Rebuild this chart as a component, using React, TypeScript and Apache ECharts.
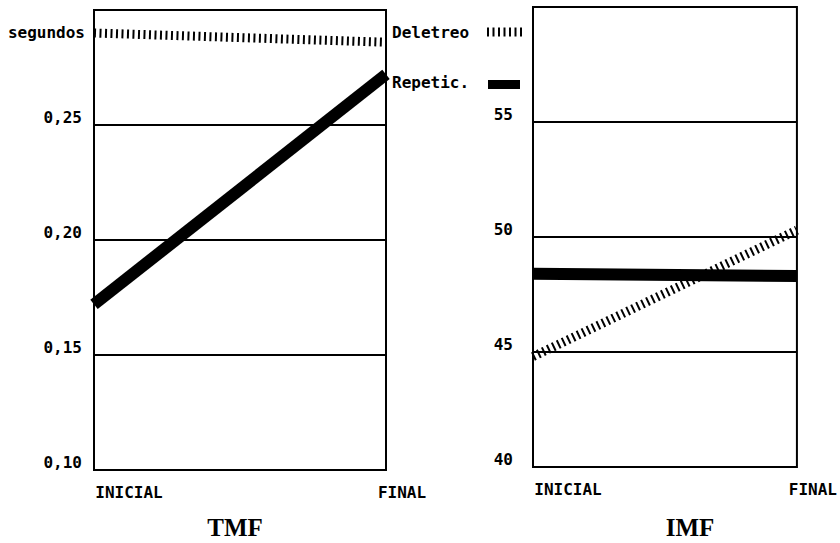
import React, { useEffect, useRef } from "react";
import * as echarts from "echarts";

const categories = ["INICIAL", "FINAL"];
const tmfDeletreo = [0.290, 0.286];
const tmfRepetic = [0.172, 0.272];
const imfDeletreo = [44.8, 50.3];
const imfRepetic = [48.4, 48.3];
const seriesNames = ["Deletreo", "Repetic."];
const panelTitles = ["TMF", "IMF"];
const yUnit = "segundos";

const MONO = "DejaVu Sans Mono";
const SERIF = "Liberation Serif";
const BLACK = "#000";

const monoText = { fontFamily: MONO, fontWeight: "bold", fontSize: 16, color: BLACK };

function xAxisFor(gridIndex: number) {
  return {
    type: "category",
    gridIndex,
    data: categories,
    boundaryGap: false,
    axisLine: { show: false },
    axisTick: { show: false },
    splitLine: { show: false },
    axisLabel: {
      ...monoText,
      margin: 14,
      align: "center",
      formatter: (v: string) => (v === categories[0] ? "{a|" + v + "}" : "{b|" + v + "}"),
      rich: {
        a: { ...monoText, padding: [0, 0, 0, 70] },
        b: { ...monoText, padding: [0, 0, 0, 32] },
      },
    },
  };
}

export default function App() {
  const ref = useRef<HTMLDivElement>(null);
  useEffect(() => {
    if (!ref.current) return;
    const chart = echarts.init(ref.current, undefined, { renderer: "svg" });
    const hatch = { color: BLACK, width: 9, type: [2, 3.5], cap: "butt" };
    const thick = { color: BLACK, width: 12, cap: "butt" };
    chart.setOption({
      animation: false,
      backgroundColor: "#fff",
      grid: [
        { left: 94, top: 10, width: 292, height: 460, show: true, borderColor: BLACK, borderWidth: 2, backgroundColor: "transparent" },
        { left: 533, top: 7, width: 294, height: 460, show: true, borderColor: BLACK, borderWidth: 2, backgroundColor: "transparent" },
      ],
      xAxis: [xAxisFor(0), xAxisFor(1)],
      yAxis: [
        {
          type: "value",
          gridIndex: 0,
          min: 0.1,
          max: 0.3,
          interval: 0.05,
          axisLine: { show: false },
          axisTick: { show: false },
          splitLine: { show: true, lineStyle: { color: BLACK, width: 2 } },
          axisLabel: {
            ...monoText,
            margin: 12,
            verticalAlign: "bottom",
            showMaxLabel: false,
            formatter: (v: number) => v.toFixed(2).replace(".", ","),
          },
        },
        {
          type: "value",
          gridIndex: 1,
          min: 40,
          max: 60,
          interval: 5,
          axisLine: { show: false },
          axisTick: { show: false },
          splitLine: { show: true, lineStyle: { color: BLACK, width: 2 } },
          axisLabel: {
            ...monoText,
            margin: 20,
            verticalAlign: "bottom",
            showMaxLabel: false,
          },
        },
      ],
      series: [
        { name: seriesNames[1], type: "line", xAxisIndex: 0, yAxisIndex: 0, data: tmfRepetic, symbol: "none", lineStyle: thick },
        { name: seriesNames[0], type: "line", xAxisIndex: 0, yAxisIndex: 0, data: tmfDeletreo, symbol: "none", lineStyle: hatch },
        { name: seriesNames[1], type: "line", xAxisIndex: 1, yAxisIndex: 1, data: imfRepetic, symbol: "none", lineStyle: thick },
        { name: seriesNames[0], type: "line", xAxisIndex: 1, yAxisIndex: 1, data: imfDeletreo, symbol: "none", lineStyle: hatch },
      ],
      graphic: [
        {
          type: "text",
          x: 85,
          y: 32,
          style: { text: yUnit, fill: BLACK, font: `bold 16px "${MONO}"`, align: "right", verticalAlign: "middle", textAlign: "right", textVerticalAlign: "middle" },
        },
        {
          type: "text",
          x: 392,
          y: 32,
          style: { text: seriesNames[0], fill: BLACK, font: `bold 16px "${MONO}"`, align: "left", verticalAlign: "middle", textAlign: "left", textVerticalAlign: "middle" },
        },
        {
          type: "line",
          shape: { x1: 487, y1: 32, x2: 522, y2: 32 },
          style: { stroke: BLACK, lineWidth: 9, lineDash: [2, 3.5], lineCap: "butt" },
        },
        {
          type: "text",
          x: 392,
          y: 82,
          style: { text: seriesNames[1], fill: BLACK, font: `bold 16px "${MONO}"`, align: "left", verticalAlign: "middle", textAlign: "left", textVerticalAlign: "middle" },
        },
        {
          type: "rect",
          shape: { x: 488, y: 80, width: 32, height: 9 },
          style: { fill: BLACK },
        },
        {
          type: "text",
          x: 235,
          y: 527,
          style: { text: panelTitles[0], fill: BLACK, font: `bold 25px "${SERIF}"`, align: "center", verticalAlign: "middle", textAlign: "center", textVerticalAlign: "middle" },
        },
        {
          type: "text",
          x: 690,
          y: 527,
          style: { text: panelTitles[1], fill: BLACK, font: `bold 25px "${SERIF}"`, align: "center", verticalAlign: "middle", textAlign: "center", textVerticalAlign: "middle" },
        },
      ],
    });
    return () => chart.dispose();
  }, []);
  return (
    <div
      ref={ref}
      style={{ position: "fixed", left: 0, top: 0, width: 840, height: 543, background: "#fff" }}
    />
  );
}
